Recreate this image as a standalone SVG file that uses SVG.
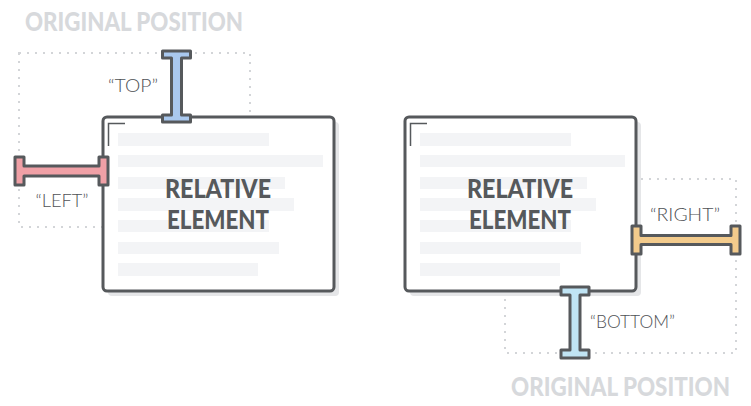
<svg xmlns="http://www.w3.org/2000/svg" width="751" height="406" viewBox="0 0 751 406">
<style>
.orig{fill:none;stroke:#d3d5d8;stroke-width:2;stroke-dasharray:2 6}
.heading{font-family:Lato,"DejaVu Sans",sans-serif;font-weight:900;font-size:27px;fill:#d7d9dc}
.shadow{fill:#e5e6e8}
.box{fill:#fff;stroke:#56595c;stroke-width:3}
.bar{fill:#f3f4f6}
.corner{fill:none;stroke:#56595c;stroke-width:1.5}
.title{font-family:Lato,"DejaVu Sans",sans-serif;font-weight:900;font-size:27px;fill:#56595c;text-anchor:middle}
.beam{stroke:#56595c;stroke-width:3;stroke-linejoin:round}
.lbl{font-family:Lato,"Open Sans",sans-serif;font-weight:300;font-size:18px;fill:#4f5256}
</style>
<defs>
<g id="bars">
<rect class="bar" x="118" y="133" width="151" height="13"/>
<rect class="bar" x="118" y="155" width="205" height="12"/>
<rect class="bar" x="118" y="177" width="167" height="12"/>
<rect class="bar" x="118" y="198" width="176" height="13"/>
<rect class="bar" x="118" y="220" width="151" height="12"/>
<rect class="bar" x="118" y="242" width="161" height="12"/>
<rect class="bar" x="118" y="263" width="140" height="13"/>
</g>
</defs>

<g id="left-original">
<rect class="orig" x="19" y="53" width="231" height="174"/>
<text class="heading" x="25" y="31" textLength="218" lengthAdjust="spacingAndGlyphs">ORIGINAL POSITION</text>
</g>

<g id="right-original">
<rect class="orig" x="505" y="179" width="231" height="174"/>
<text class="heading" x="511" y="396" textLength="219" lengthAdjust="spacingAndGlyphs">ORIGINAL POSITION</text>
</g>

<g id="left-element">
<rect class="shadow" x="108" y="122" width="231" height="174" rx="4"/>
<rect class="box" x="103" y="117" width="231" height="174" rx="4"/>
<use href="#bars"/>
<path class="corner" d="M108.5,146 V123.5 H125"/>
<text class="title" x="218" y="198" textLength="106" lengthAdjust="spacingAndGlyphs">RELATIVE</text>
<text class="title" x="218" y="229" textLength="102" lengthAdjust="spacingAndGlyphs">ELEMENT</text>
</g>

<g id="right-element">
<rect class="shadow" x="410" y="122" width="231" height="174" rx="4"/>
<rect class="box" x="405" y="117" width="231" height="174" rx="4"/>
<use href="#bars" transform="translate(302,0)"/>
<path class="corner" d="M410.5,146 V123.5 H427"/>
<text class="title" x="520" y="198" textLength="106" lengthAdjust="spacingAndGlyphs">RELATIVE</text>
<text class="title" x="520" y="229" textLength="102" lengthAdjust="spacingAndGlyphs">ELEMENT</text>
</g>

<g id="connectors">
<g id="top-beam">
<path class="beam" fill="#a9c8ee" d="M162.5,51 H190.5 V58 H181.5 V115 H190.5 V122 H162.5 V115 H171.5 V58 H162.5 Z"/>
<text class="lbl" x="158" y="92" text-anchor="end" textLength="50" lengthAdjust="spacingAndGlyphs">“TOP”</text>
</g>
<g id="left-beam">
<path class="beam" fill="#f0a0a6" d="M15,157 H24 V166 H99 V157 H108 V185 H99 V176 H24 V185 H15 Z"/>
<text class="lbl" x="62" y="207" text-anchor="middle" textLength="53" lengthAdjust="spacingAndGlyphs">“LEFT”</text>
</g>
<g id="right-beam">
<path class="beam" fill="#f3cb8c" d="M632,226 H641 V235.5 H731 V226 H740 V254 H731 V244.5 H641 V254 H632 Z"/>
<text class="lbl" x="685" y="221" text-anchor="middle" textLength="70" lengthAdjust="spacingAndGlyphs">“RIGHT”</text>
</g>
<g id="bottom-beam">
<path class="beam" fill="#c0e4f4" d="M561,287 H589 V295 H580 V350 H589 V358 H561 V350 H570 V295 H561 Z"/>
<text class="lbl" x="590" y="328" textLength="85" lengthAdjust="spacingAndGlyphs">“BOTTOM”</text>
</g>
</g>
</svg>
